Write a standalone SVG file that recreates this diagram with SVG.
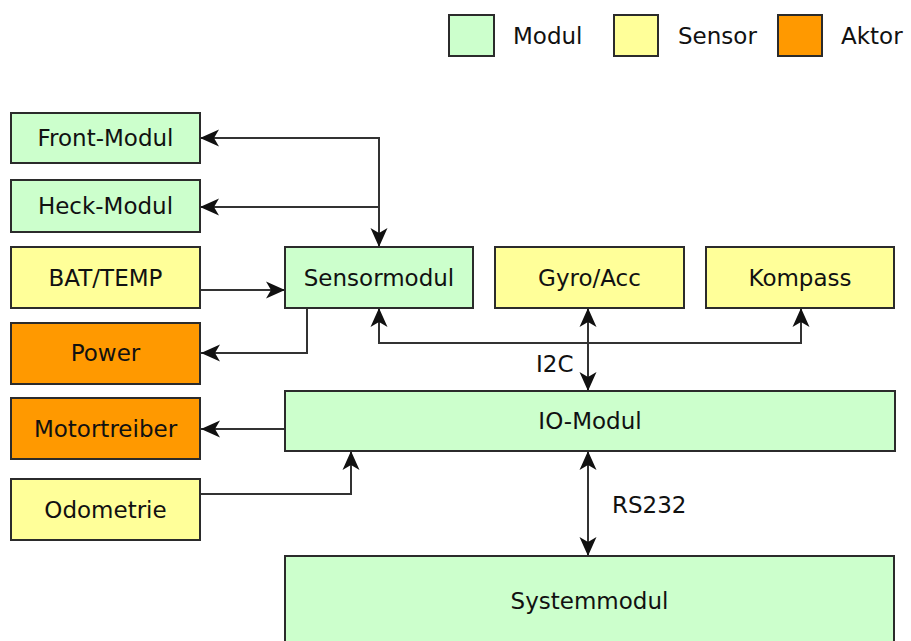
<svg xmlns="http://www.w3.org/2000/svg" width="911" height="641" viewBox="0 0 911 641">
  <defs>
    <style>
      .box { stroke: #2b2b2b; stroke-width: 2; }
      .modul { fill: #ccffcc; }
      .sensor { fill: #ffff99; }
      .aktor { fill: #ff9900; }
      text { font-family: "DejaVu Sans", "Liberation Sans", sans-serif; font-size: 23px; fill: #111; }
      .c { text-anchor: middle; }
      .wire { fill: none; stroke: #333; stroke-width: 2; }
    </style>
    <marker id="arrow" viewBox="-1 -10 22 20" refX="19" refY="0" markerWidth="22" markerHeight="20" markerUnits="userSpaceOnUse" orient="auto-start-reverse">
      <path d="M0,-8.5 L19,0 L0,8.5 L5,0 z" fill="#111"/>
    </marker>
  </defs>

  <!-- legend -->
  <g id="legend">
    <rect class="box modul" x="449" y="15" width="45" height="41"/>
    <text x="513" y="44">Modul</text>
    <rect class="box sensor" x="614" y="15" width="44" height="41"/>
    <text x="678" y="44">Sensor</text>
    <rect class="box aktor" x="778" y="15" width="44" height="41"/>
    <text x="841" y="44">Aktor</text>
  </g>

  <!-- connectors -->
  <g id="connectors">
    <path class="wire" d="M200,138 H379 V247" marker-start="url(#arrow)" marker-end="url(#arrow)"/>
    <path class="wire" d="M379,207 H200" marker-end="url(#arrow)"/>
    <path class="wire" d="M201,290 H285" marker-end="url(#arrow)"/>
    <path class="wire" d="M307,308 V353 H201" marker-end="url(#arrow)"/>
    <path class="wire" d="M379,308 V343 H801 V308" marker-start="url(#arrow)" marker-end="url(#arrow)"/>
    <path class="wire" d="M588,308 V391" marker-start="url(#arrow)" marker-end="url(#arrow)"/>
    <text x="536" y="372">I2C</text>
    <path class="wire" d="M285,429 H201" marker-end="url(#arrow)"/>
    <path class="wire" d="M201,494 H351 V451" marker-end="url(#arrow)"/>
    <path class="wire" d="M588,451 V556" marker-start="url(#arrow)" marker-end="url(#arrow)"/>
    <text x="612" y="513">RS232</text>
  </g>

  <!-- left column -->
  <g id="front-modul">
    <rect class="box modul" x="11" y="113" width="189" height="50"/>
    <text class="c" x="105.5" y="146">Front-Modul</text>
  </g>
  <g id="heck-modul">
    <rect class="box modul" x="11" y="180" width="189" height="52"/>
    <text class="c" x="105.5" y="214">Heck-Modul</text>
  </g>
  <g id="bat-temp">
    <rect class="box sensor" x="11" y="247" width="189" height="61"/>
    <text class="c" x="105.5" y="286">BAT/TEMP</text>
  </g>
  <g id="power">
    <rect class="box aktor" x="11" y="323" width="189" height="61"/>
    <text class="c" x="105.5" y="361">Power</text>
  </g>
  <g id="motortreiber">
    <rect class="box aktor" x="11" y="398" width="189" height="61"/>
    <text class="c" x="105.5" y="437">Motortreiber</text>
  </g>
  <g id="odometrie">
    <rect class="box sensor" x="11" y="479" width="189" height="61"/>
    <text class="c" x="105.5" y="518">Odometrie</text>
  </g>

  <!-- top row -->
  <g id="sensormodul">
    <rect class="box modul" x="285" y="247" width="188" height="61"/>
    <text class="c" x="379" y="286">Sensormodul</text>
  </g>
  <g id="gyro-acc">
    <rect class="box sensor" x="495" y="247" width="189" height="61"/>
    <text class="c" x="589.5" y="286">Gyro/Acc</text>
  </g>
  <g id="kompass">
    <rect class="box sensor" x="706" y="247" width="188" height="61"/>
    <text class="c" x="800" y="286">Kompass</text>
  </g>

  <!-- lower modules -->
  <g id="io-modul">
    <rect class="box modul" x="285" y="391" width="610" height="60"/>
    <text class="c" x="590" y="429">IO-Modul</text>
  </g>
  <g id="systemmodul">
    <rect class="box modul" x="285" y="556" width="609" height="95"/>
    <text class="c" x="589.5" y="609">Systemmodul</text>
  </g>
</svg>
